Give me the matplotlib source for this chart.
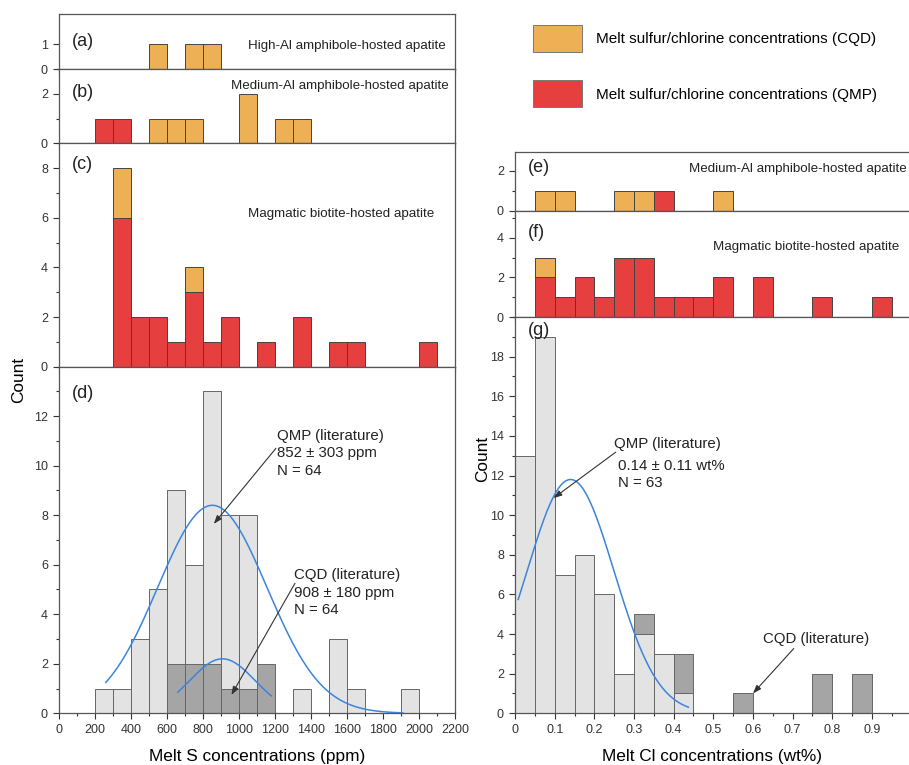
import matplotlib
matplotlib.use("Agg")
import matplotlib.pyplot as plt
import numpy as np
from matplotlib.patches import Patch
from matplotlib.ticker import FixedLocator, MultipleLocator

plt.rcParams["font.family"] = ["Liberation Sans", "DejaVu Sans"]

ORANGE = "#eeb055"
RED = "#e5403f"
LIGHT = "#e3e3e3"
DARK = "#a5a5a5"
BLUE = "#3c84dc"
EDGE = "#444444"

# ---- melt S (ppm), 100 ppm bins, left edges + counts ----
a_cqd_x = [500, 700, 800]
a_cqd_n = [1, 1, 1]

b_qmp_x = [200, 300]
b_qmp_n = [1, 1]
b_cqd_x = [500, 600, 700, 1000, 1200, 1300]
b_cqd_n = [1, 1, 1, 2, 1, 1]

c_qmp_x = [300, 400, 500, 600, 700, 800, 900, 1100, 1300, 1500, 1600, 2000]
c_qmp_n = [6, 2, 2, 1, 3, 1, 2, 1, 2, 1, 1, 1]
c_cqd_x = [300, 700]
c_cqd_n = [2, 1]

d_qmp_x = [200, 300, 400, 500, 600, 700, 800, 900, 1000, 1300, 1500, 1600, 1900]
d_qmp_n = [1, 1, 3, 5, 9, 6, 13, 8, 8, 1, 3, 1, 1]
d_cqd_x = [600, 700, 800, 900, 1000, 1100]
d_cqd_n = [2, 2, 2, 1, 1, 2]

# normal fits: mean, sd, peak height, x range drawn
s_qmp_fit = (852, 303, 8.4, 260, 1910)
s_cqd_fit = (908, 180, 2.2, 660, 1180)

# ---- melt Cl (wt%), 0.05 bins ----
e_cqd_x = [0.05, 0.10, 0.25, 0.30, 0.50]
e_cqd_n = [1, 1, 1, 1, 1]
e_qmp_x = [0.35]
e_qmp_n = [1]

f_qmp_x = [0.05, 0.10, 0.15, 0.20, 0.25, 0.30, 0.35, 0.40, 0.45, 0.50, 0.60, 0.75, 0.90]
f_qmp_n = [2, 1, 2, 1, 3, 3, 1, 1, 1, 2, 2, 1, 1]
f_cqd_x = [0.05]
f_cqd_n = [1]

g_qmp_x = [0.0, 0.05, 0.10, 0.15, 0.20, 0.25, 0.30, 0.35, 0.40]
g_qmp_n = [13, 19, 7, 8, 6, 2, 4, 3, 1]
g_cqd_x = [0.30, 0.40, 0.55, 0.75, 0.85]
g_cqd_n = [1, 2, 1, 2, 2]

cl_qmp_fit = (0.14, 0.11, 11.8, 0.008, 0.437)

legend_labels = ["Melt sulfur/chlorine concentrations (CQD)",
                 "Melt sulfur/chlorine concentrations (QMP)"]

TXT = "#222222"


def stack_bottom(base_x, base_n, top_x):
    lookup = {round(x, 3): n for x, n in zip(base_x, base_n)}
    return [lookup.get(round(x, 3), 0) for x in top_x]


def bars(ax, x, n, width, color, bottom=None, ec=EDGE):
    ax.bar(x, n, width=width, bottom=bottom, align="edge", color=color,
           edgecolor=ec, linewidth=0.7, zorder=2)


def fit_curve(ax, fit):
    mean, sd, peak, x0, x1 = fit
    xs = np.linspace(x0, x1, 200)
    ax.plot(xs, peak * np.exp(-0.5 * ((xs - mean) / sd) ** 2),
            color=BLUE, lw=1.1, zorder=3)


def style(ax, xlim, ylim, xmaj, xmin, yticks, labels=False):
    ax.set_xlim(*xlim)
    ax.set_ylim(*ylim)
    ax.xaxis.set_major_locator(MultipleLocator(xmaj))
    ax.xaxis.set_minor_locator(MultipleLocator(xmin))
    ax.yaxis.set_major_locator(FixedLocator(yticks))
    step = yticks[1] - yticks[0]
    if step > 1:
        ax.yaxis.set_minor_locator(MultipleLocator(step / 2))
    ax.tick_params(which="both", direction="out", color="#333333",
                   labelsize=9, labelcolor="#333333", width=0.8)
    ax.tick_params(which="major", length=4.5)
    ax.tick_params(which="minor", length=2.5)
    if not labels:
        ax.tick_params(axis="x", labelbottom=False)
    for sp in ax.spines.values():
        sp.set_color("#555555")
        sp.set_linewidth(0.9)


def panel_text(ax, label, x, y, desc=None, dx=None, dy=None):
    ax.text(x, y, label, transform=ax.transAxes, fontsize=13,
            va="center", ha="left", color=TXT)
    if desc:
        ax.text(dx, dy, desc, transform=ax.transAxes, fontsize=9.6,
                va="center", ha="right", color=TXT)


fig = plt.figure(figsize=(9.09, 7.65), dpi=100)

L, W = 0.0649, 0.4356
ax_a = fig.add_axes([L, 0.9098, W, 0.0719])
ax_b = fig.add_axes([L, 0.8127, W, 0.0971])
ax_c = fig.add_axes([L, 0.5207, W, 0.2920])
ax_d = fig.add_axes([L, 0.0676, W, 0.4531])

R, RW = 0.5666, 0.4340
ax_e = fig.add_axes([R, 0.7242, RW, 0.0767])
ax_f = fig.add_axes([R, 0.5856, RW, 0.1386])
ax_g = fig.add_axes([R, 0.0676, RW, 0.5180])

# left column
bars(ax_a, a_cqd_x, a_cqd_n, 100, ORANGE)
style(ax_a, (0, 2200), (0, 2.2), 200, 100, [0, 1])
panel_text(ax_a, "(a)", 0.033, 0.5, "High-Al amphibole-hosted apatite", 0.977, 0.42)

bars(ax_b, b_qmp_x, b_qmp_n, 100, RED)
bars(ax_b, b_cqd_x, b_cqd_n, 100, ORANGE)
style(ax_b, (0, 2200), (0, 3), 200, 100, [0, 2])
panel_text(ax_b, "(b)", 0.033, 0.68, "Medium-Al amphibole-hosted apatite", 0.985, 0.77)

bars(ax_c, c_qmp_x, c_qmp_n, 100, RED)
bars(ax_c, c_cqd_x, c_cqd_n, 100, ORANGE,
     bottom=stack_bottom(c_qmp_x, c_qmp_n, c_cqd_x))
style(ax_c, (0, 2200), (0, 9), 200, 100, [0, 2, 4, 6, 8])
panel_text(ax_c, "(c)", 0.033, 0.907, "Magmatic biotite-hosted apatite", 0.947, 0.683)

bars(ax_d, d_qmp_x, d_qmp_n, 100, LIGHT, ec="#666666")
bars(ax_d, d_cqd_x, d_cqd_n, 100, DARK, ec="#666666")
fit_curve(ax_d, s_qmp_fit)
fit_curve(ax_d, s_cqd_fit)
style(ax_d, (0, 2200), (0, 14), 200, 100, [0, 2, 4, 6, 8, 10, 12], labels=True)
panel_text(ax_d, "(d)", 0.033, 0.924)
ax_d.set_xlabel("Melt S concentrations (ppm)", fontsize=12.4, labelpad=9)

arrow = dict(arrowstyle="-|>,head_length=0.5,head_width=0.18",
             color="#333333", lw=0.8, shrinkA=0, shrinkB=0)
ax_d.text(1209, 11.5, "QMP (literature)\n852 ± 303 ppm\nN = 64",
          fontsize=10.8, va="top", ha="left", linespacing=1.35, color=TXT)
ax_d.annotate("", xy=(860, 7.65), xytext=(1205, 10.7), arrowprops=arrow)
ax_d.text(1305, 5.85, "CQD (literature)\n908 ± 180 ppm\nN = 64",
          fontsize=10.8, va="top", ha="left", linespacing=1.3, color=TXT)
ax_d.annotate("", xy=(958, 0.74), xytext=(1311, 5.25), arrowprops=arrow)

# right column
bars(ax_e, e_cqd_x, e_cqd_n, 0.05, ORANGE)
bars(ax_e, e_qmp_x, e_qmp_n, 0.05, RED)
style(ax_e, (0, 0.995), (0, 2.9), 0.1, 0.05, [0, 2])
panel_text(ax_e, "(e)", 0.033, 0.745, "Medium-Al amphibole-hosted apatite", 0.992, 0.71)

bars(ax_f, f_qmp_x, f_qmp_n, 0.05, RED)
bars(ax_f, f_cqd_x, f_cqd_n, 0.05, ORANGE,
     bottom=stack_bottom(f_qmp_x, f_qmp_n, f_cqd_x))
style(ax_f, (0, 0.995), (0, 5.35), 0.1, 0.05, [0, 2, 4])
panel_text(ax_f, "(f)", 0.033, 0.80, "Magmatic biotite-hosted apatite", 0.975, 0.657)

bars(ax_g, g_qmp_x, g_qmp_n, 0.05, LIGHT, ec="#666666")
bars(ax_g, g_cqd_x, g_cqd_n, 0.05, DARK, ec="#666666",
     bottom=stack_bottom(g_qmp_x, g_qmp_n, g_cqd_x))
fit_curve(ax_g, cl_qmp_fit)
style(ax_g, (0, 0.995), (0, 20), 0.1, 0.05, list(range(0, 20, 2)), labels=True)
ax_g.xaxis.set_major_formatter(lambda v, p: f"{v:.1f}" if v else "0")
panel_text(ax_g, "(g)", 0.033, 0.967)
ax_g.set_xlabel("Melt Cl concentrations (wt%)", fontsize=12.4, labelpad=9)

ax_g.text(0.25, 13.95, "QMP (literature)", fontsize=10.8, va="top", ha="left",
          color=TXT)
ax_g.text(0.26, 12.85, "0.14 ± 0.11 wt%\nN = 63", fontsize=10.8, va="top",
          ha="left", linespacing=1.3, color=TXT)
ax_g.annotate("", xy=(0.097, 10.86), xytext=(0.254, 13.18), arrowprops=arrow)
ax_g.text(0.625, 3.73, "CQD (literature)", fontsize=10.8, va="center",
          ha="left", color=TXT)
ax_g.annotate("", xy=(0.60, 1.0), xytext=(0.703, 3.27), arrowprops=arrow)

fig.text(0.02, 0.503, "Count", rotation=90, fontsize=12.4, va="center", ha="center")
fig.text(0.531, 0.40, "Count", rotation=90, fontsize=12.4, va="center", ha="center")

handles = [Patch(facecolor=ORANGE, edgecolor="#777777", lw=0.7),
           Patch(facecolor=RED, edgecolor="#777777", lw=0.7)]
fig.legend(handles, legend_labels, loc="upper left",
           bbox_to_anchor=(533 / 909, 1 - 25 / 765), frameon=False,
           fontsize=11, handlelength=3.2, handleheight=2.35,
           handletextpad=0.95, labelspacing=1.85, borderpad=0,
           borderaxespad=0)

fig.savefig("out.png", dpi=100)
